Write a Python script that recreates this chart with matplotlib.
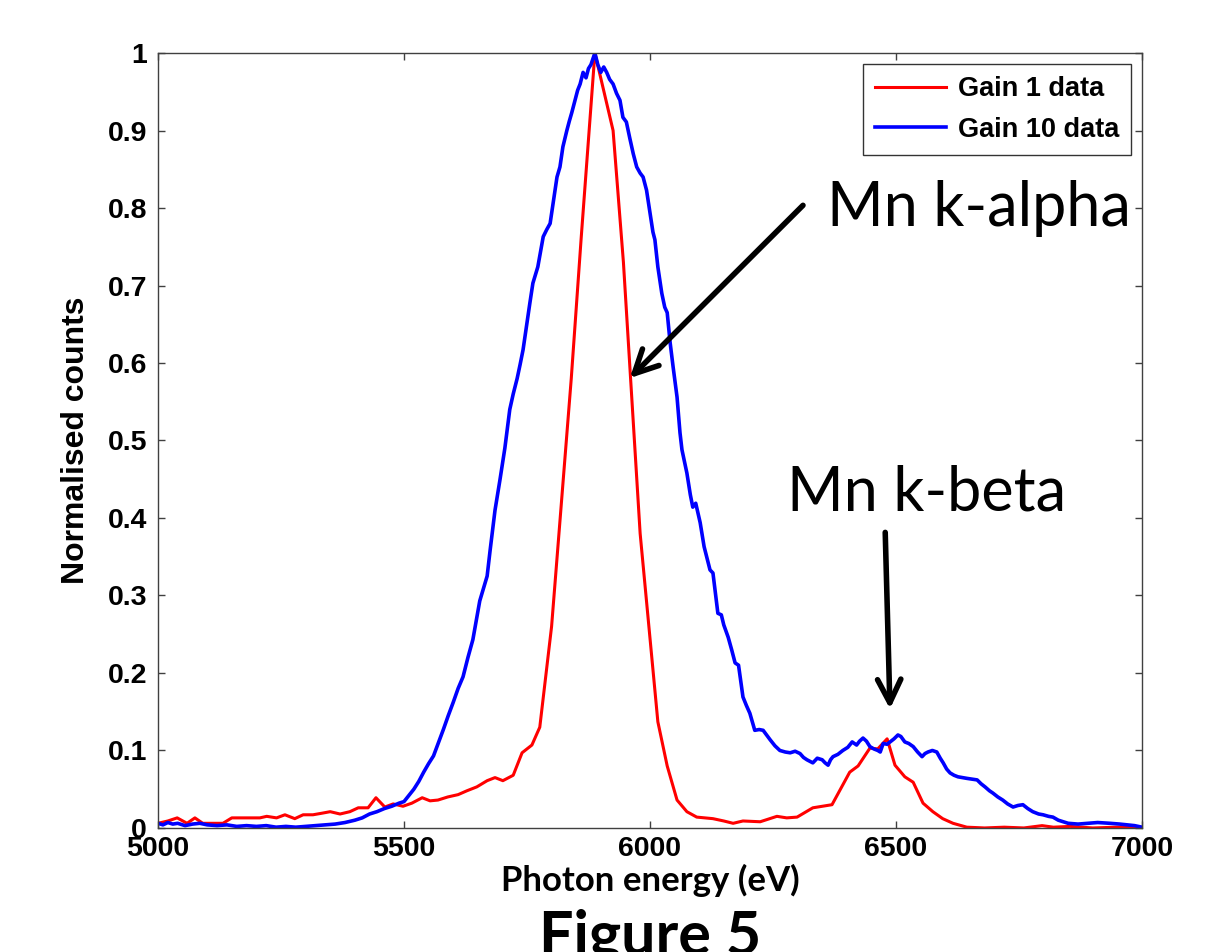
import matplotlib
matplotlib.use("Agg")
import matplotlib.pyplot as plt

# Gain 1 data (coarse bins)
red_ev = [5000, 5020, 5039, 5059, 5075, 5091, 5110, 5132, 5150, 5170, 5190, 5207,
          5221, 5241, 5258, 5278, 5295, 5315, 5333, 5350, 5370, 5390, 5407, 5427,
          5443, 5461, 5478, 5498, 5516, 5537, 5553, 5569, 5589, 5610, 5628, 5648,
          5669, 5685, 5701, 5722, 5740, 5760, 5776, 5800, 5820, 5840, 5860, 5888,
          5925, 5946, 5980, 6016, 6035, 6055, 6075, 6095, 6128, 6150, 6169, 6189,
          6224, 6258, 6278, 6299, 6331, 6370, 6406, 6423, 6447, 6463, 6482, 6498,
          6518, 6535, 6555, 6575, 6595, 6616, 6644, 6680, 6720, 6760, 6797, 6820,
          6854, 6900, 6950, 7000]
red_counts = [0.006, 0.009, 0.013, 0.006, 0.013, 0.006, 0.006, 0.006, 0.013, 0.013, 0.013, 0.013,
              0.015, 0.013, 0.017, 0.012, 0.017, 0.017, 0.019, 0.021, 0.018, 0.021, 0.026, 0.026,
              0.039, 0.027, 0.031, 0.028, 0.032, 0.039, 0.035, 0.036, 0.040, 0.043, 0.048, 0.053,
              0.061, 0.065, 0.061, 0.068, 0.097, 0.107, 0.130, 0.260, 0.420, 0.580, 0.760, 1.000,
              0.900, 0.730, 0.380, 0.137, 0.080, 0.036, 0.021, 0.014, 0.012, 0.009, 0.006, 0.009,
              0.008, 0.015, 0.013, 0.014, 0.026, 0.030, 0.072, 0.080, 0.103, 0.102, 0.115, 0.081,
              0.066, 0.059, 0.032, 0.021, 0.012, 0.006, 0.001, 0.000, 0.001, 0.000, 0.003, 0.001,
              0.002, 0.000, 0.001, 0.000]

# Gain 10 data (fine bins)
blue_ev = [5000, 5010, 5020, 5030, 5040, 5055, 5070, 5085, 5100, 5120, 5140, 5160,
           5180, 5200, 5220, 5240, 5260, 5280, 5300, 5320, 5340, 5360, 5380, 5400,
           5415, 5430, 5445, 5460, 5475, 5490, 5500, 5510, 5520, 5530, 5540, 5550,
           5560, 5570, 5580, 5590, 5600, 5610, 5620, 5630, 5640, 5647, 5654, 5662,
           5669, 5675, 5685, 5695, 5705, 5715, 5722, 5730, 5736, 5742, 5750, 5756,
           5762, 5772, 5778, 5783, 5790, 5797, 5803, 5811, 5817, 5823, 5831, 5836,
           5841, 5848, 5853, 5858, 5864, 5870, 5875, 5880, 5888, 5894, 5900, 5906,
           5912, 5918, 5925, 5932, 5939, 5945, 5952, 5959, 5966, 5973, 5980, 5986,
           5993, 6000, 6006, 6010, 6016, 6024, 6030, 6035, 6041, 6047, 6055, 6061,
           6065, 6075, 6082, 6087, 6093, 6102, 6110, 6122, 6128, 6138, 6145, 6150,
           6159, 6166, 6173, 6180, 6189, 6196, 6203, 6213, 6222, 6230, 6237, 6244,
           6254, 6264, 6275, 6285, 6295, 6305, 6312, 6319, 6325, 6331, 6340, 6350,
           6356, 6362, 6367, 6372, 6382, 6392, 6402, 6411, 6420, 6426, 6433, 6440,
           6447, 6455, 6463, 6468, 6474, 6482, 6488, 6496, 6504, 6510, 6518, 6526,
           6535, 6544, 6553, 6559, 6565, 6574, 6583, 6590, 6596, 6603, 6610, 6618,
           6626, 6635, 6644, 6655, 6665, 6673, 6681, 6690, 6697, 6707, 6717, 6727,
           6738, 6748, 6758, 6768, 6778, 6790, 6799, 6810, 6819, 6830, 6840, 6850,
           6870, 6890, 6910, 6935, 6955, 6971, 6985, 7000]
blue_counts = [0.006, 0.004, 0.007, 0.005, 0.006, 0.003, 0.005, 0.006, 0.004, 0.003, 0.004, 0.002,
               0.003, 0.002, 0.003, 0.001, 0.002, 0.001, 0.002, 0.003, 0.004, 0.005, 0.007, 0.010,
               0.013, 0.018, 0.021, 0.025, 0.028, 0.032, 0.034, 0.042, 0.050, 0.060, 0.072, 0.083,
               0.093, 0.110, 0.127, 0.145, 0.162, 0.180, 0.195, 0.220, 0.243, 0.268, 0.293, 0.310,
               0.325, 0.358, 0.410, 0.449, 0.490, 0.540, 0.560, 0.580, 0.598, 0.617, 0.652, 0.678,
               0.703, 0.724, 0.745, 0.763, 0.772, 0.780, 0.806, 0.840, 0.853, 0.879, 0.900, 0.912,
               0.923, 0.940, 0.952, 0.960, 0.975, 0.968, 0.980, 0.985, 1.000, 0.985, 0.975, 0.982,
               0.975, 0.966, 0.960, 0.948, 0.939, 0.917, 0.911, 0.890, 0.870, 0.853, 0.845, 0.840,
               0.823, 0.794, 0.769, 0.759, 0.724, 0.690, 0.672, 0.665, 0.626, 0.595, 0.556, 0.510,
               0.488, 0.458, 0.430, 0.414, 0.419, 0.394, 0.363, 0.333, 0.329, 0.277, 0.275, 0.262,
               0.246, 0.230, 0.213, 0.210, 0.169, 0.158, 0.148, 0.126, 0.127, 0.126, 0.120, 0.114,
               0.106, 0.100, 0.098, 0.097, 0.099, 0.096, 0.091, 0.088, 0.086, 0.084, 0.090, 0.088,
               0.084, 0.081, 0.088, 0.092, 0.095, 0.100, 0.104, 0.111, 0.107, 0.112, 0.116, 0.112,
               0.105, 0.102, 0.100, 0.098, 0.109, 0.108, 0.111, 0.115, 0.120, 0.118, 0.111, 0.109,
               0.105, 0.098, 0.092, 0.096, 0.098, 0.100, 0.098, 0.090, 0.084, 0.076, 0.071, 0.068,
               0.066, 0.065, 0.064, 0.063, 0.062, 0.057, 0.053, 0.048, 0.045, 0.040, 0.036, 0.031,
               0.027, 0.029, 0.030, 0.025, 0.021, 0.018, 0.017, 0.015, 0.014, 0.010, 0.008, 0.006,
               0.005, 0.006, 0.007, 0.006, 0.005, 0.004, 0.003, 0.001]

x_ticks = [5000, 5500, 6000, 6500, 7000]
y_ticks = [0, 0.1, 0.2, 0.3, 0.4, 0.5, 0.6, 0.7, 0.8, 0.9, 1]
y_tick_labels = ["0", "0.1", "0.2", "0.3", "0.4", "0.5", "0.6", "0.7", "0.8", "0.9", "1"]

arial = "Liberation Sans"
calibri = "Lato"

fig = plt.figure(figsize=(12.22, 9.52), dpi=100)
ax = fig.add_axes([0.1293, 0.1303, 0.8052, 0.814])

ax.plot(red_ev, red_counts, color="#ff0000", lw=2.2, label="Gain 1 data")
ax.plot(blue_ev, blue_counts, color="#0000ff", lw=2.6, label="Gain 10 data")

ax.set_xlim(5000, 7000)
ax.set_ylim(0, 1)
ax.set_xticks(x_ticks)
ax.set_yticks(y_ticks)
ax.set_yticklabels(y_tick_labels)
ax.tick_params(direction="in", length=5, width=1, top=True, right=True, color="#404040")
ax.tick_params(axis="y", pad=8)
ax.tick_params(axis="x", pad=6)
for lab in ax.get_xticklabels() + ax.get_yticklabels():
    lab.set_fontfamily(arial)
    lab.set_fontweight("bold")
    lab.set_fontsize(20.5)
for sp in ax.spines.values():
    sp.set_color("#404040")
    sp.set_linewidth(1.0)

ax.set_ylabel("Normalised counts", fontfamily=arial, fontweight="bold", fontsize=23, labelpad=12)
ax.set_xlabel("Photon energy (eV)", fontfamily=calibri, fontweight="bold", fontsize=25, labelpad=1)

leg = ax.legend(loc="upper right", prop={"family": arial, "weight": "bold", "size": 19.5},
                frameon=True, fancybox=False, edgecolor="black", handlelength=2.6,
                borderaxespad=0.4, labelspacing=0.55, handletextpad=0.45, borderpad=0.45)
leg.get_frame().set_linewidth(1.0)

# annotations
ax.text(6669, 0.80, "Mn k-alpha", fontfamily=calibri, fontsize=44, ha="center", va="center")
ax.annotate("", xy=(5955, 0.578), xytext=(6315, 0.806),
            arrowprops=dict(arrowstyle="->", lw=4, color="black", mutation_scale=42))
ax.text(6563, 0.432, "Mn k-beta", fontfamily=calibri, fontsize=44, ha="center", va="center")
ax.annotate("", xy=(6488, 0.150), xytext=(6478, 0.385),
            arrowprops=dict(arrowstyle="->", lw=4, color="black", mutation_scale=42))

fig.text(0.532, -0.002, "Figure 5", fontfamily=calibri, fontweight="bold", fontsize=44,
         ha="center", va="baseline")

fig.savefig("out.png", dpi=100)
